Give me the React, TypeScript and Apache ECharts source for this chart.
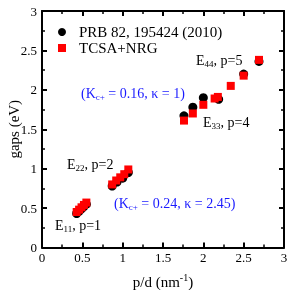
import React, { useEffect, useRef } from "react";
import * as echarts from "echarts";

const blackX = [0.43, 0.46, 0.49, 0.52, 0.55, 0.87, 0.93, 1.0, 1.07, 1.76, 1.87, 2.0, 2.19, 2.5, 2.69];
const blackY = [0.43, 0.46, 0.49, 0.52, 0.55, 0.78, 0.83, 0.88, 0.95, 1.67, 1.78, 1.9, 1.88, 2.2, 2.36];
const redX = [0.43, 0.46, 0.49, 0.52, 0.55, 0.87, 0.92, 0.97, 1.02, 1.07, 1.76, 1.87, 2.0, 2.14, 2.18, 2.34, 2.5, 2.69];
const redY = [0.45, 0.48, 0.51, 0.54, 0.57, 0.8, 0.85, 0.89, 0.93, 0.99, 1.61, 1.7, 1.81, 1.89, 1.91, 2.05, 2.18, 2.38];
const xTicks = [0, 0.5, 1, 1.5, 2, 2.5, 3];
const yTicks = [0, 0.5, 1, 1.5, 2, 2.5, 3];
const seriesNames = ["PRB 82, 195424 (2010)", "TCSA+NRG"];

const FONT = "Liberation Serif";

export default function App() {
  const ref = useRef<HTMLDivElement>(null);
  useEffect(() => {
    if (!ref.current) return;
    const chart = echarts.init(ref.current, null, { renderer: "svg" });
    const axisCommon = {
      type: "value" as const,
      min: 0,
      max: 3,
      interval: 0.5,
      axisLine: { show: true, onZero: false, lineStyle: { color: "#000", width: 2 } },
      axisTick: { show: true, inside: true, length: 5, lineStyle: { color: "#000", width: 2 } },
      minorTick: { show: true, splitNumber: 2, length: 3, lineStyle: { color: "#000", width: 1.5 } },
      splitLine: { show: false },
    };
    const labelStyle = { color: "#000", fontFamily: FONT, fontSize: 13 };
    const base = { fontFamily: FONT, fontSize: 14, fill: "#000" };
    const sub = { fontFamily: FONT, fontSize: 9, fill: "#000", padding: [7, 0, 0, 0] };
    const blueBase = { fontFamily: FONT, fontSize: 14, fill: "#1a1aff" };
    const blueSub = { fontFamily: FONT, fontSize: 9, fill: "#1a1aff", padding: [7, 0, 0, 0] };
    chart.setOption({
      animation: false,
      grid: { left: 42, right: 7, top: 11, bottom: 42.5, containLabel: false, outerBoundsMode: "none" },
      xAxis: [
        {
          ...axisCommon,
          position: "bottom",
          axisLabel: { ...labelStyle, margin: 3, formatter: (v: number) => (xTicks.includes(v) ? String(v) : "") },
          name: "{a|p/d (nm}{s|-1}{a|)}",
          nameLocation: "middle",
          nameGap: 25,
          nameMoveOverlap: false,
          nameTextStyle: {
            rich: {
              a: { fontFamily: FONT, fontSize: 15, color: "#000" },
              s: { fontFamily: FONT, fontSize: 10, color: "#000", padding: [0, 0, 8, 0] },
            },
          },
        },
        { ...axisCommon, position: "top", axisLabel: { show: false } },
      ],
      yAxis: [
        {
          ...axisCommon,
          position: "left",
          axisLabel: { ...labelStyle, margin: 5, formatter: (v: number) => (yTicks.includes(v) ? String(v) : "") },
          name: "gaps (eV)",
          nameLocation: "middle",
          nameGap: 21,
          nameMoveOverlap: false,
          nameTextStyle: { color: "#000", fontFamily: FONT, fontSize: 15 },
        },
        { ...axisCommon, position: "right", axisLabel: { show: false } },
      ],
      legend: {
        orient: "vertical",
        left: 53,
        top: 19,
        itemWidth: 8,
        itemHeight: 8,
        itemGap: 0,
        textStyle: { color: "#000", fontFamily: FONT, fontSize: 15, lineHeight: 16, padding: [0, 0, 0, 8] },
        data: [
          { name: seriesNames[0], icon: "circle" },
          { name: seriesNames[1], icon: "rect" },
        ],
      },
      series: [
        {
          name: seriesNames[0],
          type: "scatter",
          symbol: "circle",
          symbolSize: 9,
          itemStyle: { color: "#000", opacity: 1 },
          data: blackX.map((x, i) => [x, blackY[i]]),
          z: 2,
        },
        {
          name: seriesNames[1],
          type: "scatter",
          symbol: "rect",
          symbolSize: 8,
          itemStyle: { color: "#ff0000", opacity: 1 },
          data: redX.map((x, i) => [x, redY[i]]),
          z: 3,
        },
      ],
      graphic: [
        {
          type: "text",
          left: 196,
          top: 53,
          style: { text: "{a|E}{s|44}{a|, p=5}", rich: { a: base, s: sub } },
        },
        {
          type: "text",
          left: 203,
          top: 115,
          style: { text: "{a|E}{s|33}{a|, p=4}", rich: { a: base, s: sub } },
        },
        {
          type: "text",
          left: 67,
          top: 157,
          style: { text: "{a|E}{s|22}{a|, p=2}", rich: { a: base, s: sub } },
        },
        {
          type: "text",
          left: 55,
          top: 218,
          style: { text: "{a|E}{s|11}{a|, p=1}", rich: { a: base, s: sub } },
        },
        {
          type: "text",
          left: 81,
          top: 86,
          style: { text: "{a|(K}{s|c+}{a| = 0.16, κ = 1)}", rich: { a: blueBase, s: blueSub } },
        },
        {
          type: "text",
          left: 114,
          top: 196,
          style: { text: "{a|(K}{s|c+}{a| = 0.24, κ = 2.45)}", rich: { a: blueBase, s: blueSub } },
        },
      ],
    });
    return () => chart.dispose();
  }, []);
  return <div ref={ref} style={{ position: "fixed", left: 0, top: 0, width: 291, height: 290 }} />;
}
